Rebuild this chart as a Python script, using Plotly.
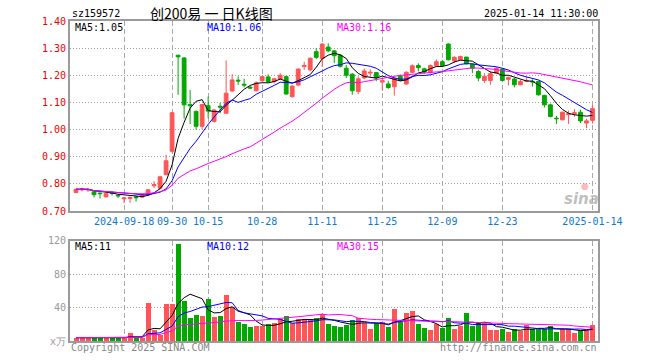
import plotly.graph_objects as go
import pandas as pd

dates = [
    "2024-09-04", "2024-09-05", "2024-09-06", "2024-09-09", "2024-09-10", "2024-09-11",
    "2024-09-12", "2024-09-13", "2024-09-18", "2024-09-19", "2024-09-20", "2024-09-23",
    "2024-09-24", "2024-09-25", "2024-09-26", "2024-09-27", "2024-09-30", "2024-10-08",
    "2024-10-09", "2024-10-10", "2024-10-11", "2024-10-14", "2024-10-15", "2024-10-16",
    "2024-10-17", "2024-10-18", "2024-10-21", "2024-10-22", "2024-10-23", "2024-10-24",
    "2024-10-25", "2024-10-28", "2024-10-29", "2024-10-30", "2024-10-31", "2024-11-01",
    "2024-11-04", "2024-11-05", "2024-11-06", "2024-11-07", "2024-11-08", "2024-11-11",
    "2024-11-12", "2024-11-13", "2024-11-14", "2024-11-15", "2024-11-18", "2024-11-19",
    "2024-11-20", "2024-11-21", "2024-11-22", "2024-11-25", "2024-11-26", "2024-11-27",
    "2024-11-28", "2024-11-29", "2024-12-02", "2024-12-03", "2024-12-04", "2024-12-05",
    "2024-12-06", "2024-12-09", "2024-12-10", "2024-12-11", "2024-12-12", "2024-12-13",
    "2024-12-16", "2024-12-17", "2024-12-18", "2024-12-19", "2024-12-20", "2024-12-23",
    "2024-12-24", "2024-12-25", "2024-12-26", "2024-12-27", "2024-12-30", "2024-12-31",
    "2025-01-02", "2025-01-03", "2025-01-06", "2025-01-07", "2025-01-08", "2025-01-09",
    "2025-01-10", "2025-01-13", "2025-01-14",
]

opens = [
    0.768, 0.778, 0.777, 0.771, 0.766, 0.752, 0.768, 0.758, 0.745, 0.746, 0.752, 0.751,
    0.760, 0.793, 0.784, 0.834, 0.920, 1.274, 1.264, 1.092, 1.067, 1.012, 1.088, 1.030,
    1.086, 1.060, 1.142, 1.182, 1.167, 1.156, 1.143, 1.180, 1.194, 1.177, 1.186, 1.195,
    1.121, 1.164, 1.232, 1.220, 1.287, 1.262, 1.304, 1.290, 1.274, 1.226, 1.204, 1.140,
    1.190, 1.208, 1.210, 1.175, 1.168, 1.158, 1.197, 1.168, 1.211, 1.236, 1.224, 1.210,
    1.235, 1.250, 1.315, 1.253, 1.257, 1.267, 1.241, 1.214, 1.181, 1.181, 1.208, 1.223,
    1.185, 1.186, 1.165, 1.178, 1.178, 1.177, 1.126, 1.091, 1.042, 1.036, 1.055, 1.058,
    1.064, 1.024, 1.034,
]
highs = [
    0.783, 0.786, 0.785, 0.773, 0.769, 0.766, 0.773, 0.761, 0.750, 0.753, 0.757, 0.765,
    0.781, 0.810, 0.830, 0.907, 1.063, 1.275, 1.266, 1.146, 1.070, 1.093, 1.122, 1.076,
    1.098, 1.255, 1.204, 1.196, 1.187, 1.162, 1.178, 1.198, 1.203, 1.190, 1.208, 1.198,
    1.164, 1.225, 1.250, 1.265, 1.300, 1.318, 1.318, 1.293, 1.278, 1.238, 1.208, 1.196,
    1.225, 1.222, 1.212, 1.185, 1.180, 1.192, 1.203, 1.215, 1.240, 1.244, 1.228, 1.240,
    1.258, 1.256, 1.318, 1.270, 1.272, 1.268, 1.243, 1.220, 1.208, 1.215, 1.230, 1.226,
    1.195, 1.190, 1.183, 1.195, 1.185, 1.180, 1.128, 1.095, 1.050, 1.066, 1.070, 1.075,
    1.073, 1.040, 1.089,
]
lows = [
    0.765, 0.772, 0.770, 0.750, 0.746, 0.750, 0.757, 0.748, 0.728, 0.730, 0.735, 0.749,
    0.758, 0.785, 0.780, 0.832, 0.915, 1.128, 1.040, 1.020, 1.000, 1.000, 1.042, 1.026,
    1.060, 1.060, 1.140, 1.164, 1.155, 1.150, 1.140, 1.178, 1.172, 1.170, 1.184, 1.128,
    1.118, 1.160, 1.220, 1.215, 1.260, 1.230, 1.285, 1.245, 1.228, 1.190, 1.128, 1.130,
    1.186, 1.195, 1.178, 1.143, 1.150, 1.125, 1.178, 1.165, 1.208, 1.214, 1.205, 1.206,
    1.232, 1.230, 1.255, 1.245, 1.255, 1.240, 1.208, 1.178, 1.172, 1.165, 1.205, 1.178,
    1.163, 1.155, 1.163, 1.175, 1.158, 1.125, 1.081, 1.045, 1.020, 1.034, 1.020, 1.047,
    1.024, 1.005, 1.022,
]
closes = [
    0.780, 0.781, 0.779, 0.760, 0.764, 0.764, 0.765, 0.756, 0.748, 0.750, 0.749, 0.762,
    0.778, 0.797, 0.826, 0.885, 1.062, 1.268, 1.091, 1.088, 1.012, 1.092, 1.068, 1.072,
    1.083, 1.134, 1.183, 1.179, 1.164, 1.153, 1.172, 1.195, 1.177, 1.187, 1.200, 1.131,
    1.160, 1.223, 1.236, 1.263, 1.266, 1.315, 1.290, 1.272, 1.233, 1.200, 1.143, 1.187,
    1.216, 1.211, 1.191, 1.180, 1.155, 1.189, 1.181, 1.211, 1.235, 1.228, 1.212, 1.236,
    1.250, 1.236, 1.257, 1.266, 1.269, 1.242, 1.226, 1.190, 1.196, 1.206, 1.226, 1.181,
    1.192, 1.165, 1.177, 1.181, 1.176, 1.128, 1.091, 1.048, 1.040, 1.064, 1.058, 1.062,
    1.032, 1.032, 1.077,
]
volumes = [
    4.0, 4.0, 3.5, 4.0, 4.0, 4.0, 4.0, 4.0, 3.5, 9.6, 4.0, 4.0,
    45.0, 13.0, 7.0, 44.0, 44.0, 116.0, 48.0, 28.0, 31.0, 30.0, 50.0, 29.0,
    30.0, 55.0, 41.0, 23.0, 20.0, 17.0, 18.0, 18.0, 20.0, 21.0, 26.0, 30.0,
    21.0, 26.0, 26.0, 26.0, 27.0, 32.0, 20.0, 18.4, 16.4, 19.0, 25.0, 27.0,
    22.0, 14.4, 21.0, 23.0, 16.4, 38.0, 23.0, 33.0, 36.0, 20.0, 15.0, 13.0,
    20.0, 16.0, 28.0, 14.4, 18.4, 34.0, 18.0, 21.0, 21.0, 13.0, 13.0, 14.4,
    10.4, 14.4, 12.4, 19.0, 14.0, 16.0, 14.4, 18.0, 10.4, 14.4, 14.4, 9.6,
    13.2, 13.2, 19.0,
]

tick_dates = ["2024-09-18", "2024-09-30", "2024-10-15", "2024-10-28", "2024-11-11",
              "2024-11-25", "2024-12-09", "2024-12-23", "2025-01-14"]
tick_labels = ["2024-09-18", "09-30", "10-15", "10-28", "11-11",
               "11-25", "12-09", "12-23", "2025-01-14"]
price_ticks = [0.70, 0.80, 0.90, 1.00, 1.10, 1.20, 1.30, 1.40]
vol_ticks = [0, 40, 80, 120]
vol_tick_labels = ["x万", "40", "80", "120"]

title_code = "sz159572"
title_name = "创200易 一 日K线图"
title_time = "2025-01-14 11:30:00"
price_ma_labels = ["MA5:1.05", "MA10:1.06", "MA30:1.16"]
vol_ma_labels = ["MA5:11", "MA10:12", "MA30:15"]

# ---------------------------------------------------------------------------
MONO = "DejaVu Sans Mono"
RED = "#ff5555"
GREEN = "#00a800"
MA_COLORS = ["#000000", "#0000ff", "#ff00ff"]
MA_N = [5, 10, 30]
GRID_V = "#a8a8a8"
GRID_H = "#a0a0a0"
BORDER = "#9a9a9a"

x = list(range(len(dates)))
tickvals = [dates.index(d) for d in tick_dates]
cs = pd.Series(closes)
vs = pd.Series(volumes)

fig = go.Figure()
fig.add_trace(go.Candlestick(
    x=x, open=opens, high=highs, low=lows, close=closes,
    increasing=dict(line=dict(color=RED, width=1), fillcolor=RED),
    decreasing=dict(line=dict(color=GREEN, width=1), fillcolor=GREEN),
    whiskerwidth=0, xaxis="x", yaxis="y", showlegend=False, hoverinfo="skip",
))
for n, col in zip(MA_N, MA_COLORS):
    fig.add_trace(go.Scatter(x=x, y=cs.rolling(n, min_periods=1).mean(), mode="lines",
                             line=dict(color=col, width=1), xaxis="x", yaxis="y",
                             showlegend=False, hoverinfo="skip"))

bar_colors = [RED if c > o else GREEN for o, c in zip(opens, closes)]
fig.add_trace(go.Bar(x=x, y=volumes, marker=dict(color=bar_colors, line=dict(width=0)),
                     width=0.83, xaxis="x2", yaxis="y2", showlegend=False, hoverinfo="skip"))
for n, col in zip(MA_N, MA_COLORS):
    fig.add_trace(go.Scatter(x=x, y=vs.rolling(n, min_periods=1).mean(), mode="lines",
                             line=dict(color=col, width=1), xaxis="x2", yaxis="y2",
                             showlegend=False, hoverinfo="skip"))

xcommon = dict(range=[-1, 86.92], tickmode="array", tickvals=tickvals,
               showgrid=True, gridcolor=GRID_V, griddash="5px,3px", gridwidth=1,
               showline=True, linecolor=BORDER, linewidth=2, mirror=True,
               ticks="", zeroline=False, fixedrange=True)
ycommon = dict(showgrid=True, gridcolor=GRID_H, griddash="1px,2px", gridwidth=1,
               showline=True, linecolor=BORDER, linewidth=2, mirror=True,
               ticks="", zeroline=False, fixedrange=True)

fig.update_layout(
    width=660, height=360,
    margin=dict(l=70, r=62, t=21, b=19, pad=0),
    paper_bgcolor="white", plot_bgcolor="white",
    showlegend=False, bargap=0, boxgap=0.1,
    xaxis=dict(domain=[0, 1], anchor="y", ticktext=tick_labels,
               tickfont=dict(family=MONO, size=10, color="#0b7ad1"),
               rangeslider=dict(visible=False), **xcommon),
    yaxis=dict(domain=[0.40625, 1], anchor="x", range=[0.70, 1.40], tickmode="array",
               tickvals=price_ticks, ticktext=[f"{p:.2f}" for p in price_ticks],
               tickfont=dict(family=MONO, size=10, color="#ee0000"), **ycommon),
    xaxis2=dict(domain=[0, 1], anchor="y2", matches="x", showticklabels=False, **xcommon),
    yaxis2=dict(domain=[0, 0.3134], anchor="x2", range=[0, 120], tickmode="array",
                tickvals=vol_ticks, ticktext=vol_tick_labels,
                tickfont=dict(family=MONO, size=10, color="#999999"), **ycommon),
)

ann = []
def add(text, x, y, xanchor, color="#000000", size=10, family=MONO, yanchor="middle", **kw):
    ann.append(dict(text=text, x=x, y=y, xref="paper", yref="paper", xanchor=xanchor,
                    yanchor=yanchor, showarrow=False,
                    font=dict(family=family, size=size, color=color), **kw))

PW = 528.0
PH = 320.0
def px(xp):
    return (xp - 70) / PW
def py(yp):
    return (341 - yp) / PH

add(title_code, px(70), py(13), "left")
add(title_name, px(211), py(13), "center", size=14, family="Noto Sans CJK SC")
add(title_time, px(600), py(13), "right")

for lab, xs, col in zip(price_ma_labels, [73, 205, 335], MA_COLORS):
    add(lab, px(xs), py(27), "left", color=col)
for lab, xs, col in zip(vol_ma_labels, [73, 205, 335], MA_COLORS):
    add(lab, px(xs), py(246), "left", color=col)

add("Copyright 2025 SINA.COM", px(69), py(347), "left", color="#888888")
add("http://finance.sina.com.cn", px(599), py(347), "right", color="#888888")

# sina watermark
ann.append(dict(text="<b><i>sina</i></b>", x=px(581), y=py(199), xref="paper", yref="paper",
                xanchor="center", yanchor="middle", showarrow=False,
                font=dict(family="DejaVu Sans", size=15, color="rgba(170,170,170,0.75)")))
ann.append(dict(text="●", x=px(585), y=py(186), xref="paper", yref="paper",
                xanchor="center", yanchor="middle", showarrow=False,
                font=dict(family="DejaVu Sans", size=9, color="rgba(240,130,130,0.55)")))

fig.update_layout(annotations=ann)
fig.write_html("out.html",
               config={"displayModeBar": False, "staticPlot": True},
               post_script="document.body.style.margin='0';document.body.style.overflow='hidden';")
